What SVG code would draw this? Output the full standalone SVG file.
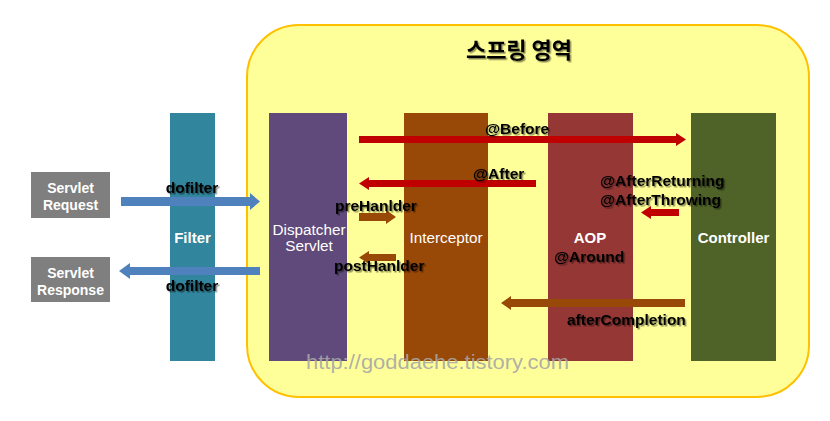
<svg xmlns="http://www.w3.org/2000/svg" width="830" height="421" viewBox="0 0 830 421">
<defs>
<filter id="sh" x="-10%" y="-30%" width="130%" height="170%">
<feDropShadow dx="1.5" dy="1.5" stdDeviation="0.7" flood-color="#000" flood-opacity="0.45"/>
</filter>
<style>
.lbl{font-family:"Liberation Sans",Arial,sans-serif;font-weight:bold;font-size:15.5px;fill:#000;filter:url(#sh)}
.wb{font-family:"Liberation Sans",Arial,sans-serif;font-weight:bold;font-size:15px;fill:#fff;text-anchor:middle}
.wr{font-family:"Liberation Sans",Arial,sans-serif;font-size:15.3px;fill:#fff;text-anchor:middle}
.box{font-family:"Liberation Sans",Arial,sans-serif;font-weight:bold;font-size:14px;fill:#fff;text-anchor:middle}
.red{fill:#c00000}
.brn{fill:#984807}
.blu{fill:#4f81bd}
</style>
</defs>
<rect width="830" height="421" fill="#fff"/>

<g id="spring-area">
<rect x="247" y="25" width="562" height="372" rx="52" ry="52" fill="#ffff99" stroke="#ffc000" stroke-width="2"/>
<text x="519" y="58" text-anchor="middle" font-family="'Noto Sans CJK KR',sans-serif" font-weight="bold" font-size="22" fill="#000" filter="url(#sh)">스프링 영역</text>
</g>

<g id="servlet-request">
<rect x="31" y="172" width="79" height="46" fill="#7f7f7f"/>
<text class="box" x="70.5" y="193">Servlet</text>
<text class="box" x="70.5" y="210">Request</text>
</g>
<g id="servlet-response">
<rect x="31" y="257" width="79" height="45" fill="#7f7f7f"/>
<text class="box" x="70.5" y="278">Servlet</text>
<text class="box" x="70.5" y="295">Response</text>
</g>

<g id="filter">
<rect x="170" y="113" width="45" height="248" fill="#31859c"/>
<text class="wb" x="192.5" y="243">Filter</text>
</g>
<g id="dispatcher">
<rect x="269" y="113" width="78" height="248" fill="#604a7b"/>
<text class="wr" x="309" y="235">Dispatcher</text>
<text class="wr" x="309" y="251">Servlet</text>
</g>
<g id="interceptor">
<rect x="404" y="113" width="84" height="248" fill="#984807"/>
<text class="wr" x="446" y="243">Interceptor</text>
</g>
<g id="aop">
<rect x="548" y="113" width="85" height="248" fill="#953735"/>
<text class="wb" x="590" y="243">AOP</text>
<text class="lbl" x="589" y="262" text-anchor="middle">@Around</text>
</g>
<g id="controller">
<rect x="691" y="113" width="85" height="248" fill="#4f6228"/>
<text class="wb" x="733.5" y="243">Controller</text>
</g>

<g id="connectors">
<path class="blu" d="M121,197 H250 V193 L260,201.5 L250,210 V206 H121 Z"/>
<path class="blu" d="M260,267 H130 V263 L119,271 L130,279 V275 H260 Z"/>
<path class="red" d="M359,136 H676 V133 L686,139.5 L676,146 V143 H359 Z"/>
<path class="red" d="M536,180 H369 V177 L359,183.5 L369,190 V187 H536 Z"/>
<path class="brn" d="M359,213 H386 V210 L396,217 L386,224 V221 H359 Z"/>
<path class="brn" d="M396,254 H369 V251 L359,257.5 L369,264 V261 H396 Z"/>
<path class="red" d="M679,209 H651 V206 L641,212.5 L651,219 V216 H679 Z"/>
<path class="brn" d="M685,299 H511 V296 L501,303 L511,310 V307 H685 Z"/>
</g>

<g id="labels">
<text class="lbl" x="192" y="193" text-anchor="middle">dofilter</text>
<text class="lbl" x="192" y="291" text-anchor="middle">dofilter</text>
<text class="lbl" x="485" y="134">@Before</text>
<text class="lbl" x="473" y="179">@After</text>
<text class="lbl" x="335" y="211">preHanlder</text>
<text class="lbl" x="334" y="271">postHanlder</text>
<text class="lbl" x="600" y="186">@AfterReturning</text>
<text class="lbl" x="600" y="205">@AfterThrowing</text>
<text class="lbl" x="567" y="325">afterCompletion</text>
</g>

<text x="306" y="369" font-family="'Liberation Sans',Arial,sans-serif" font-size="20.5" fill="#a6a6a6" fill-opacity="0.9" textLength="263" lengthAdjust="spacingAndGlyphs">http://goddaehe.tistory.com</text>
</svg>
